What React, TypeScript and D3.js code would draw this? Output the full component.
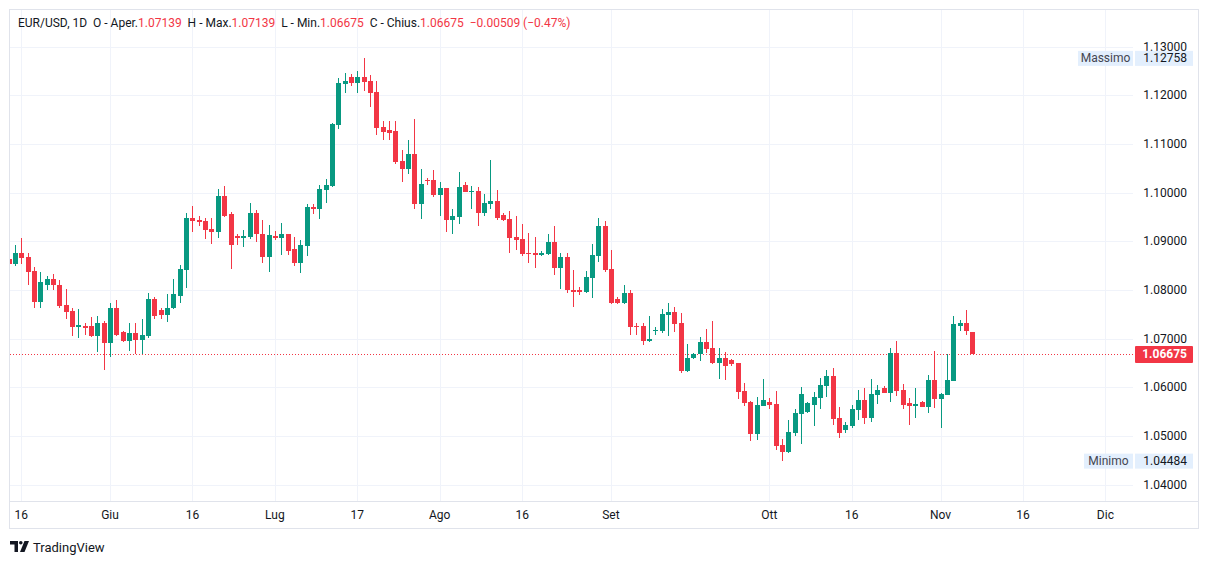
import React from 'react';
import * as d3 from 'd3';

// EUR/USD daily candles, Sunday–Friday sessions, first candle on 2023-05-14
const firstSession = '2023-05-14';

const open = [
  1.0863, 1.0853, 1.0875, 1.0867, 1.0838, 1.0775, 1.081, 1.0823, 1.0811, 1.077,
  1.0756, 1.0723, 1.0727, 1.0725, 1.0706, 1.0733, 1.0692, 1.0762, 1.0714, 1.0696,
  1.0712, 1.0698, 1.0706, 1.0782, 1.0758, 1.0749, 1.0762, 1.0788, 1.0842, 1.0947,
  1.0943, 1.0941, 1.0925, 1.0919, 1.0993, 1.0956, 1.091, 1.0906, 1.0908, 1.0958,
  1.0916, 1.0867, 1.091, 1.0906, 1.0914, 1.0884, 1.0855, 1.089, 1.097, 1.0966,
  1.1005, 1.1013, 1.1139, 1.1223, 1.1237, 1.1225, 1.1237, 1.1229, 1.1207, 1.1135,
  1.1128, 1.1126, 1.1065, 1.1048, 1.1079, 1.0976, 1.1026, 1.1026, 1.0995, 1.1009,
  1.0943, 1.0949, 1.1015, 1.1001, 1.1003, 1.0958, 1.0976, 1.0982, 1.0955, 1.0945,
  1.0908, 1.0904, 1.0875, 1.0875, 1.0871, 1.0873, 1.0898, 1.0846, 1.0867, 1.0801,
  1.0799, 1.0795, 1.0824, 1.0869, 1.0931, 1.0844, 1.0781, 1.0774, 1.0793, 1.0725,
  1.0725, 1.0696, 1.0715, 1.0715, 1.0748, 1.0754, 1.0733, 1.0634, 1.0661, 1.0669,
  1.0694, 1.0681, 1.0649, 1.0661, 1.0657, 1.0649, 1.0593, 1.057, 1.0505, 1.0562,
  1.057, 1.0566, 1.0482, 1.0467, 1.0507, 1.0546, 1.055, 1.0564, 1.0579, 1.0603,
  1.0624, 1.0537, 1.0513, 1.0521, 1.0554, 1.0574, 1.0537, 1.0585, 1.0599, 1.0589,
  1.0671, 1.0595, 1.0568, 1.0562, 1.057, 1.056, 1.0616, 1.0577, 1.0585, 1.0614,
  1.0725, 1.0733, 1.07139,
];
const high = [
  1.0866, 1.0892, 1.0906, 1.0875, 1.0848, 1.0836, 1.0828, 1.0832, 1.0821, 1.0803,
  1.0762, 1.076, 1.0733, 1.0745, 1.0747, 1.0737, 1.0774, 1.078, 1.0716, 1.0733,
  1.0733, 1.0741, 1.0793, 1.0786, 1.0762, 1.0791, 1.0823, 1.0852, 1.0958, 1.0972,
  1.0953, 1.0947, 1.0947, 1.1007, 1.1013, 1.096, 1.0916, 1.0923, 1.0978, 1.0964,
  1.0943, 1.0933, 1.0921, 1.0937, 1.0916, 1.0908, 1.0902, 1.0976, 1.0976, 1.1015,
  1.1028, 1.1143, 1.1235, 1.1246, 1.1244, 1.125, 1.12758, 1.1242, 1.1229, 1.1147,
  1.1147, 1.1147, 1.1087, 1.1108, 1.1151, 1.1048, 1.103, 1.1046, 1.1021, 1.101,
  1.0966, 1.1042, 1.1021, 1.1013, 1.1011, 1.0997, 1.1067, 1.1005, 1.0958, 1.0962,
  1.0953, 1.0935, 1.0918, 1.0908, 1.0881, 1.0914, 1.0931, 1.0875, 1.0877, 1.0842,
  1.0807, 1.0838, 1.0894, 1.0947, 1.0941, 1.0883, 1.0785, 1.0811, 1.0799, 1.0733,
  1.0733, 1.0746, 1.0723, 1.076, 1.0774, 1.0766, 1.0753, 1.069, 1.0671, 1.0704,
  1.0719, 1.0737, 1.0681, 1.0673, 1.0659, 1.065, 1.0609, 1.0571, 1.0581, 1.0618,
  1.0579, 1.0593, 1.0494, 1.0533, 1.0556, 1.0601, 1.057, 1.0591, 1.062, 1.0636,
  1.064, 1.056, 1.0529, 1.0564, 1.0595, 1.0599, 1.0618, 1.0605, 1.0603, 1.0681,
  1.0696, 1.0607, 1.0579, 1.0599, 1.0571, 1.0626, 1.0675, 1.0589, 1.0669, 1.0747,
  1.0739, 1.0758, 1.07139,
];
const low = [
  1.0851, 1.0849, 1.0854, 1.0811, 1.0764, 1.0762, 1.0801, 1.0801, 1.0762, 1.0741,
  1.0706, 1.0702, 1.0708, 1.0704, 1.0673, 1.0636, 1.0663, 1.0706, 1.0694, 1.0675,
  1.0669, 1.0669, 1.0702, 1.0741, 1.0741, 1.0735, 1.076, 1.0774, 1.0805, 1.0919,
  1.0931, 1.0904, 1.0894, 1.0906, 1.0949, 1.0844, 1.0892, 1.0888, 1.0904, 1.0898,
  1.0855, 1.0836, 1.0902, 1.0871, 1.0871, 1.0849, 1.0834, 1.0869, 1.0956, 1.0945,
  1.0978, 1.1011, 1.113, 1.1205, 1.1219, 1.1205, 1.1209, 1.1176, 1.1118, 1.1108,
  1.1108, 1.1058, 1.1021, 1.1038, 1.0966, 1.0945, 1.1015, 1.0991, 1.0953, 1.0919,
  1.0914, 1.0935, 1.1001, 1.0966, 1.0931, 1.0953, 1.0966, 1.0943, 1.0941, 1.0875,
  1.0883, 1.0869, 1.0855, 1.0846, 1.0869, 1.0871, 1.083, 1.0803, 1.0793, 1.0766,
  1.0789, 1.0793, 1.0783, 1.0857, 1.0836, 1.0772, 1.0772, 1.0772, 1.0708, 1.0708,
  1.0686, 1.0694, 1.0708, 1.0711, 1.0706, 1.0713, 1.063, 1.0632, 1.0659, 1.0655,
  1.0671, 1.0648, 1.0618, 1.0616, 1.0644, 1.0577, 1.0562, 1.049, 1.0492, 1.0561,
  1.0556, 1.0472, 1.04484, 1.0466, 1.05, 1.0484, 1.0548, 1.0521, 1.0556, 1.0581,
  1.0523, 1.0496, 1.0507, 1.0517, 1.0533, 1.0525, 1.0529, 1.0566, 1.0589, 1.057,
  1.0583, 1.0556, 1.0523, 1.0537, 1.0559, 1.0548, 1.0558, 1.0517, 1.0584, 1.0613,
  1.0716, 1.0708, 1.06675,
];
const close = [
  1.0853, 1.0875, 1.0865, 1.0836, 1.0775, 1.0817, 1.0823, 1.081, 1.0768, 1.0754,
  1.0723, 1.0729, 1.0721, 1.0706, 1.0733, 1.0692, 1.0762, 1.0708, 1.0696, 1.0712,
  1.0698, 1.0708, 1.0782, 1.0747, 1.0749, 1.0764, 1.0791, 1.0844, 1.0947, 1.0941,
  1.0939, 1.0923, 1.0919, 1.0993, 1.0953, 1.0892, 1.0906, 1.091, 1.0958, 1.0914,
  1.0867, 1.0912, 1.0906, 1.0914, 1.0881, 1.0855, 1.0892, 1.097, 1.0966, 1.1007,
  1.1015, 1.1141, 1.1225, 1.1229, 1.1225, 1.1237, 1.1227, 1.1205, 1.1133, 1.1124,
  1.1122, 1.1063, 1.1048, 1.1079, 1.0976, 1.1017, 1.1023, 1.0995, 1.1009, 1.0943,
  1.0951, 1.1011, 1.1001, 1.1003, 1.0958, 1.0978, 1.0982, 1.0947, 1.0943, 1.0906,
  1.0902, 1.0873, 1.0873, 1.0871, 1.0875, 1.0898, 1.0846, 1.0867, 1.0799, 1.0795,
  1.0795, 1.0826, 1.0871, 1.0931, 1.0842, 1.0774, 1.0774, 1.0793, 1.0723, 1.0723,
  1.0696, 1.07, 1.0717, 1.075, 1.0754, 1.0731, 1.0634, 1.0661, 1.0669, 1.0694,
  1.0679, 1.0649, 1.0661, 1.0644, 1.0647, 1.0591, 1.0568, 1.0505, 1.0564, 1.0574,
  1.0564, 1.048, 1.0467, 1.0509, 1.0548, 1.0587, 1.0568, 1.0581, 1.0605, 1.0624,
  1.0535, 1.0507, 1.0523, 1.0556, 1.0574, 1.0537, 1.0587, 1.0595, 1.0589, 1.0671,
  1.0593, 1.0564, 1.0562, 1.0566, 1.056, 1.0616, 1.0577, 1.0587, 1.0616, 1.0731,
  1.0733, 1.0716, 1.06675,
];

const priceTicks = [1.04, 1.05, 1.06, 1.07, 1.08, 1.09, 1.1, 1.11, 1.12, 1.13];
const timeTickDates = [
  '2023-05-16', '2023-06-01', '2023-06-16', '2023-07-02', '2023-07-17', '2023-08-01',
  '2023-08-16', '2023-09-01', '2023-10-01', '2023-10-16', '2023-11-01', '2023-11-16',
  '2023-12-01',
];
const timeTickLabels = ['16', 'Giu', '16', 'Lug', '17', 'Ago', '16', 'Set', 'Ott', '16', 'Nov', '16', 'Dic'];

const symbol = 'EUR/USD, 1D';
const lastPrice = 1.06675;
const change = '\u22120.00509 (\u22120.47%)';
const maxLabel = 'Massimo';
const minLabel = 'Minimo';

const W = 1209;
const H = 564;
const plot = { left: 10, right: 1133, top: 10, bottom: 501 };
const UP = '#089981';
const DOWN = '#F23645';
const TEXT = '#131722';
const GRID = '#f0f3fa';
const FONT = "Roboto, 'Noto Sans', sans-serif";

// session calendar (Saturdays have no candle)
const parse = d3.utcParse('%Y-%m-%d');
const sessions = d3
  .utcDays(parse(firstSession)!, parse('2023-12-10')!)
  .filter((d) => d.getUTCDay() !== 6);
const fmt = d3.utcFormat('%Y-%m-%d');
const sessionIndex = new Map(sessions.map((d, i) => [fmt(d), i]));

const x = d3.scaleLinear().domain([2, 173]).range([21.3, 1105.4]);
const y = d3.scaleLinear().domain([1.04, 1.13]).range([484.7, 46.6]);

const fix = (v: number) => v.toFixed(5);

export default function App() {
  const candles = open.map((o, i) => ({
    i,
    o,
    h: high[i],
    l: low[i],
    c: close[i],
  }));
  const maxP = d3.max(high)!;
  const minP = d3.min(low)!;
  const bodyW = 5;

  const headerParts: [string, string][] = [
    [symbol + '  O - Aper.', TEXT],
    [fix(open[open.length - 1]), DOWN],
    ['  H - Max.', TEXT],
    [fix(high[high.length - 1]), DOWN],
    ['  L - Min.', TEXT],
    [fix(low[low.length - 1]), DOWN],
    ['  C - Chius.', TEXT],
    [fix(close[close.length - 1]), DOWN],
    ['  ' + change, DOWN],
  ];

  const axisX = 1135;
  const axisW = 58;

  return (
    <svg
      width={W}
      height={H}
      viewBox={`0 0 ${W} ${H}`}
      style={{ position: 'absolute', left: 0, top: 0, background: '#fff' }}
      fontFamily={FONT}
    >
      <defs>
        <clipPath id="plot-clip">
          <rect x={plot.left} y={plot.top} width={plot.right - plot.left} height={plot.bottom - plot.top} />
        </clipPath>
      </defs>
      <rect width={W} height={H} fill="#fff" />

      {/* grid */}
      <g shapeRendering="crispEdges">
        {priceTicks.map((p) => (
          <line key={p} x1={plot.left} x2={plot.right} y1={Math.round(y(p)) + 0.5} y2={Math.round(y(p)) + 0.5} stroke={GRID} />
        ))}
        {timeTickDates.map((d) => {
          const xi = Math.round(x(sessionIndex.get(d)!)) + 0.5;
          return <line key={d} x1={xi} x2={xi} y1={plot.top} y2={plot.bottom} stroke={GRID} />;
        })}
      </g>

      {/* last price line */}
      <line
        x1={plot.left}
        x2={plot.right}
        y1={Math.round(y(lastPrice)) + 0.5}
        y2={Math.round(y(lastPrice)) + 0.5}
        stroke={DOWN}
        strokeWidth={1}
        strokeDasharray="1 2"
      />

      {/* candles */}
      <g clipPath="url(#plot-clip)" shapeRendering="crispEdges">
        {candles.map((d) => {
          const color = d.c >= d.o ? UP : DOWN;
          const xc = x(d.i);
          const top = y(Math.max(d.o, d.c));
          const bot = y(Math.min(d.o, d.c));
          return (
            <g key={d.i}>
              <rect x={Math.round(xc)} y={y(d.h)} width={1} height={Math.max(1, y(d.l) - y(d.h))} fill={color} />
              <rect
                x={Math.round(xc) - 2}
                y={top}
                width={bodyW}
                height={Math.max(1, bot - top)}
                fill={color}
              />
            </g>
          );
        })}
      </g>

      {/* frame */}
      <g shapeRendering="crispEdges" fill="none" stroke="#e0e3eb">
        <rect x={9.5} y={9.5} width={1189} height={519} />
        <line x1={9} x2={1199} y1={501.5} y2={501.5} />
      </g>

      {/* header */}
      <text x={18} y={27} fontSize={12} xmlSpace="preserve" style={{ whiteSpace: 'pre' }}>
        {headerParts.map(([t, c], k) => (
          <tspan key={k} fill={c}>
            {t}
          </tspan>
        ))}
      </text>

      {/* price axis */}
      <g fontSize={12} fill={TEXT} textAnchor="end">
        {priceTicks.map((p) => (
          <text key={p} x={1187} y={y(p)} dominantBaseline="central">
            {fix(p)}
          </text>
        ))}
      </g>

      {/* max / min markers */}
      {[
        [maxLabel, maxP, 1078],
        [minLabel, minP, 1084],
      ].map(([lab, p, bx]) => {
        const yy = y(p as number);
        return (
          <g key={lab as string} fontSize={12}>
            <rect x={bx as number} y={yy - 7.5} width={1133 - (bx as number)} height={15} fill="#e3effd" />
            <rect x={axisX} y={yy - 7.5} width={axisW} height={15} fill="#e3effd" />
            <text x={((bx as number) + 1133) / 2} y={yy} textAnchor="middle" dominantBaseline="central" fill="#434651">
              {lab as string}
            </text>
            <text x={1187} y={yy} textAnchor="end" dominantBaseline="central" fill={TEXT}>
              {fix(p as number)}
            </text>
          </g>
        );
      })}

      {/* last price label */}
      <rect x={axisX} y={y(lastPrice) - 8.5} width={axisW} height={17} fill={DOWN} rx={1} />
      <text x={1187} y={y(lastPrice)} textAnchor="end" dominantBaseline="central" fill="#fff" fontSize={12} fontWeight={700}>
        {fix(lastPrice)}
      </text>

      {/* time axis */}
      <g fontSize={12} fill={TEXT} textAnchor="middle">
        {timeTickDates.map((d, k) => (
          <text key={d} x={x(sessionIndex.get(d)!)} y={515} dominantBaseline="central">
            {timeTickLabels[k]}
          </text>
        ))}
      </g>

      {/* branding */}
      <g fill={TEXT}>
        <path d="M10 541 H18 V552 H14.5 V544.5 H10 Z" />
        <circle cx={20.8} cy={542.8} r={1.8} />
        <path d="M24.5 541 H29 L24.5 552 H20 Z" />
        <text x={33} y={547} fontSize={13} dominantBaseline="central">
          TradingView
        </text>
      </g>
    </svg>
  );
}
